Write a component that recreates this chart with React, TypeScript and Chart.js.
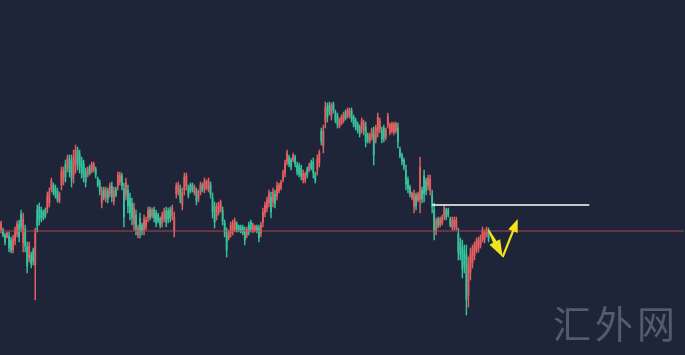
import React, { useEffect, useRef } from "react";
import { Chart, registerables } from "chart.js";

Chart.register(...registerables);

// ---- data (price units) ----
const opens = [
  125,125,120,118,119,115,105,114,121,131,
  141,112,126,108,97,100,104,90,145,148,
  145,143,145,146,152,166,170,167,164,154,
  170,174,191,187,196,194,180,189,204,201,
  194,191,183,180,188,184,185,186,176,172,
  152,165,157,164,161,169,154,166,169,173,
  179,166,160,165,157,152,131,140,120,137,
  130,125,128,137,145,139,145,142,140,136,
  132,136,144,144,145,139,124,161,163,166,
  150,165,169,167,170,170,162,164,156,163,
  170,166,167,166,170,157,148,139,143,146,
  145,132,121,117,122,124,126,131,129,128,
  128,124,120,130,133,124,125,128,127,122,
  133,142,147,152,158,153,161,159,164,167,
  176,182,193,198,195,195,198,190,189,187,
  175,175,186,185,193,193,181,185,192,224,
  209,233,248,250,239,251,242,239,229,232,
  234,243,239,239,244,238,235,231,228,226,
  224,228,220,214,218,221,216,224,226,225,
  227,218,230,223,224,223,224,227,206,200,
  195,185,175,168,157,148,159,155,155,165,
  179,174,169,165,160,145,124,136,130,132,
  139,145,145,136,128,128,128,121,113,108,
  105,100,60,83,92,99,105,107,110,116,
  115,120,124,
];
const highs = [
  134,127,122,123,123,118,120,128,134,135,
  145,142,130,113,113,103,107,127,150,152,
  148,145,147,163,167,177,172,170,167,163,
  188,188,195,200,200,200,205,210,208,205,
  198,195,187,188,190,193,193,188,178,175,
  168,168,168,167,172,173,168,168,183,183,
  182,172,177,170,162,157,152,145,130,142,
  132,140,138,148,148,147,148,145,142,138,
  143,147,148,147,148,150,143,172,173,170,
  167,182,182,170,172,172,170,167,165,173,
  172,177,175,177,173,162,153,152,153,155,
  148,135,127,125,133,135,137,133,130,130,
  130,128,128,133,135,132,130,130,130,133,
  147,153,158,165,163,167,165,173,172,175,
  185,195,205,200,197,202,200,193,192,190,
  185,183,188,192,195,197,183,200,205,227,
  230,253,252,253,252,253,245,242,237,240,
  243,245,247,247,247,240,237,233,230,237,
  235,233,222,222,227,228,230,242,237,228,
  230,227,242,232,233,233,233,232,208,202,
  197,190,178,170,163,165,162,163,198,168,
  185,177,180,180,165,152,137,138,138,140,
  150,147,147,138,138,138,138,127,117,115,
  110,110,98,107,110,113,117,118,120,128,
  125,128,127,
];
const lows = [
  122,118,110,117,103,102,102,110,118,113,
  123,103,103,82,93,87,90,55,123,130,
  133,135,137,142,148,163,160,157,153,152,
  165,170,173,183,178,168,172,182,185,182,
  177,173,168,178,180,182,183,177,168,160,
  147,155,153,152,158,153,150,158,165,170,
  165,128,155,142,135,130,125,120,117,117,
  120,120,125,133,135,137,133,128,132,127,
  128,133,128,132,133,135,118,157,160,152,
  145,160,165,157,162,163,160,150,153,160,
  163,162,165,163,157,137,127,135,140,143,
  130,118,98,115,118,120,123,123,123,122,
  120,110,117,120,123,122,123,122,113,118,
  128,138,143,148,137,148,147,155,162,165,
  173,178,190,188,185,193,188,180,178,175,
  172,172,177,183,185,177,172,180,188,210,
  202,227,233,240,235,242,232,227,227,230,
  232,235,237,237,233,228,225,222,218,222,
  220,208,212,212,215,190,212,218,222,212,
  213,215,227,220,222,220,222,207,197,190,
  185,165,162,158,155,142,145,153,142,152,
  153,160,165,160,142,115,120,127,128,130,
  135,135,138,128,125,125,125,95,95,77,
  82,40,48,75,87,95,102,103,107,113,
  112,118,113,
];
const closes = [
  132,120,113,122,107,105,116,125,131,118,
  128,136,109,89,109,91,94,122,129,135,
  137,137,139,159,163,174,163,160,156,161,
  184,185,178,197,183,176,198,205,191,188,
  182,178,173,186,182,191,191,180,170,164,
  164,158,165,156,169,158,164,160,180,180,
  169,138,173,149,142,137,147,126,127,123,
  123,136,135,145,138,145,137,132,134,130,
  140,144,133,136,137,147,138,169,170,156,
  163,178,179,160,164,165,168,154,163,170,
  165,174,173,174,161,143,133,149,150,153,
  134,122,105,123,130,132,134,125,125,124,
  122,115,126,123,126,130,129,124,117,130,
  143,150,155,162,143,163,151,169,170,173,
  182,192,202,191,188,200,191,183,181,179,
  182,181,180,190,187,182,175,196,202,214,
  224,248,238,243,249,245,235,231,235,238,
  241,237,245,245,236,231,228,225,221,234,
  232,214,214,220,225,200,227,238,234,216,
  217,225,239,230,231,231,231,213,199,193,
  188,171,166,161,162,161,149,161,188,156,
  161,164,177,176,148,124,134,130,136,138,
  147,138,140,130,135,135,135,103,100,86,
  89,55,90,101,106,110,114,115,117,125,
  122,126,116,
];

const slotCount = 340;
const categories = Array.from({ length: slotCount }, (_, i) => String(i + 1));

const supportLevel = 124;
const resistanceLevel = 150;
const resistanceFrom = 214;
const resistanceTo = 292;

const arrowIdx = [242, 249, 256.5];
const arrowVal = [125, 98, 136];

const UP = "#e35f60";
const DOWN = "#37c29c";
const BG = "#1e2538";

function drawArrow(ctx: CanvasRenderingContext2D, a: any, b: any, w0: number, w1: number, headLen: number, headW: number) {
  const dx = b.x - a.x, dy = b.y - a.y;
  const len = Math.hypot(dx, dy);
  const ux = dx / len, uy = dy / len;
  const nx = -uy, ny = ux;
  const bx = b.x - ux * headLen, by = b.y - uy * headLen;
  ctx.beginPath();
  ctx.moveTo(a.x + (nx * w0) / 2, a.y + (ny * w0) / 2);
  ctx.lineTo(bx + (nx * w1) / 2, by + (ny * w1) / 2);
  ctx.lineTo(bx + (nx * headW) / 2, by + (ny * headW) / 2);
  ctx.lineTo(b.x, b.y);
  ctx.lineTo(bx - (nx * headW) / 2, by - (ny * headW) / 2);
  ctx.lineTo(bx - (nx * w1) / 2, by - (ny * w1) / 2);
  ctx.lineTo(a.x - (nx * w0) / 2, a.y - (ny * w0) / 2);
  ctx.closePath();
  ctx.fill();
}

const arrowPlugin = {
  id: "arrows",
  afterDatasetsDraw(chart: any) {
    const { ctx, scales } = chart;
    const pts = arrowIdx.map((v, i) => ({
      x: scales.x.getPixelForValue(v),
      y: scales.y.getPixelForValue(arrowVal[i]),
    }));
    ctx.save();
    ctx.fillStyle = "#f2e41c";
    drawArrow(ctx, pts[0], pts[1], 1.5, 4, 17, 12);
    drawArrow(ctx, pts[1], pts[2], 2.2, 2.2, 13, 10);
    ctx.restore();
  },
};

export default function App() {
  const ref = useRef<HTMLCanvasElement>(null);
  useEffect(() => {
    document.body.style.margin = "0";
    const colors = opens.map((o, i) => (closes[i] >= o ? UP : DOWN));
    const chart = new Chart(ref.current!, {
      type: "bar",
      data: {
        labels: categories,
        datasets: [
          {
            type: "line",
            data: [
              { x: categories[0], y: supportLevel },
              { x: categories[slotCount - 1], y: supportLevel },
            ],
            borderColor: "rgba(190,72,84,0.9)",
            borderWidth: 1,
            pointRadius: 0,
            order: 0,
          } as any,
          {
            type: "line",
            data: [
              { x: categories[resistanceFrom], y: resistanceLevel },
              { x: categories[resistanceTo], y: resistanceLevel },
            ],
            borderColor: "#ffffff",
            borderWidth: 1.5,
            pointRadius: 0,
            order: 0,
          } as any,
          {
            data: opens.map((o, i) => [o, closes[i]]),
            backgroundColor: colors,
            barThickness: 1.2,
            grouped: false,
            order: 1,
          } as any,
          {
            data: highs.map((h, i) => [lows[i], h]),
            backgroundColor: colors,
            barThickness: 0.8,
            grouped: false,
            order: 2,
          } as any,
        ],
      },
      options: {
        responsive: false,
        animation: false,
        devicePixelRatio: 1,
        layout: { padding: 0 },
        plugins: { legend: { display: false }, tooltip: { enabled: false } },
        scales: {
          x: { display: false, offset: true, grid: { display: false } },
          y: { display: false, min: 0, max: 355, grid: { display: false } },
        },
      },
      plugins: [arrowPlugin],
    });
    return () => chart.destroy();
  }, []);
  return (
    <div style={{ position: "relative", width: 685, height: 355, background: BG, overflow: "hidden" }}>
      <canvas ref={ref} width={685} height={355} style={{ display: "block" }} />
      <div
        style={{
          position: "absolute",
          left: 553,
          top: 297,
          fontFamily: '"Noto Sans CJK SC", sans-serif',
          fontWeight: 400,
          fontSize: 38,
          letterSpacing: 4,
          color: "#545b6c",
          lineHeight: "50px",
          whiteSpace: "nowrap",
        }}
      >
        汇外网
      </div>
    </div>
  );
}
